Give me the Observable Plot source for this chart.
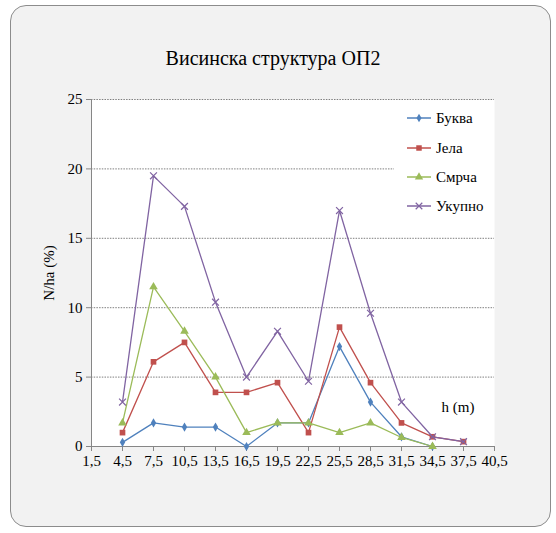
<!DOCTYPE html>
<html>
<head>
<meta charset="utf-8">
<script src="https://cdn.jsdelivr.net/npm/d3@7"></script>
<script src="https://cdn.jsdelivr.net/npm/@observablehq/plot@0.6"></script>
<style>
  html, body { margin: 0; padding: 0; background: #ffffff; }
  * { font-family: "Liberation Serif", "Times New Roman", serif; }
  #wrap { position: relative; width: 556px; height: 533px; overflow: hidden; }
  #panel { position: absolute; left: 10px; top: 5px; width: 541px; height: 522px; border: 1px solid #8c8c8c; border-radius: 16px; background: #f2f2f2; box-sizing: border-box; }
  #title { position: absolute; left: 0; width: 546px; top: 47px; text-align: center; font-size: 20px; color: #000; }
  #chart { position: absolute; left: 0; top: 0; }
  #legend { position: absolute; left: 394px; top: 104px; width: 100px; height: 118px; background: #fff; }
  .row { position: absolute; left: 12px; height: 20px; display: flex; align-items: center; font-size: 15px; color: #000; }
  .row svg { margin-right: 4px; }
</style>
</head>
<body>
<div id="wrap">
  <div id="panel"></div>
  <div id="title">Висинска структура ОП2</div>
  <div id="chart"></div>
  <div id="legend"></div>
</div>
<script>
// Heights (class midpoints, m)
const heights = [4.5, 7.5, 10.5, 13.5, 16.5, 19.5, 22.5, 25.5, 28.5, 31.5, 34.5, 37.5];
// N/ha (%) by species
const bukva  = [0.3, 1.7, 1.4, 1.4, 0.0, 1.7, 1.7, 7.2, 3.2, 0.7, 0.0];
const jela   = [1.0, 6.1, 7.5, 3.9, 3.9, 4.6, 1.0, 8.6, 4.6, 1.7, 0.7, 0.35];
const smrca  = [1.7, 11.5, 8.3, 5.0, 1.0, 1.7, 1.7, 1.0, 1.7, 0.65, 0.0];
const ukupno = [3.2, 19.5, 17.3, 10.4, 5.0, 8.3, 4.7, 17.0, 9.6, 3.2, 0.7, 0.35];

const seriesNames = ["Буква", "Јела", "Смрча", "Укупно"];
const seriesValues = [bukva, jela, smrca, ukupno];
const colors = ["#4F81BD", "#C0504D", "#9BBB59", "#8064A2"];
const symbols = ["diamond", "square", "triangle", "times"];

const xTicks = [1.5, 4.5, 7.5, 10.5, 13.5, 16.5, 19.5, 22.5, 25.5, 28.5, 31.5, 34.5, 37.5, 40.5];
const yTicks = [0, 5, 10, 15, 20, 25];
const xLabel = "h (m)";
const yLabel = "N/ha (%)";

const FONT = "Liberation Serif";

const rows = [];
seriesNames.forEach((name, i) => {
  seriesValues[i].forEach((v, j) => rows.push({series: name, x: heights[j], y: v}));
});

const marks = [
  Plot.frame({fill: "white", stroke: "none"}),
  Plot.gridY({ticks: yTicks.slice(1), stroke: "#7f7f7f", strokeOpacity: 1, strokeDasharray: "1.5,1.2"}),
  Plot.ruleY([0], {stroke: "#868686"}),
  Plot.ruleX([xTicks[0]], {stroke: "#868686"}),
  Plot.axisX({ticks: xTicks, tickFormat: d => String(d).replace(".", ","), tickSize: 5, tickPadding: 4, stroke: "#868686", fill: "#000", fontSize: 15, label: null}),
  Plot.axisY({ticks: yTicks, tickSize: 5, tickPadding: 4, stroke: "#868686", fill: "#000", fontSize: 15, label: yLabel, labelAnchor: "center", labelOffset: 48, labelArrow: "none"}),
];
seriesNames.forEach((name, i) => {
  const data = rows.filter(r => r.series === name);
  marks.push(Plot.line(data, {x: "x", y: "y", stroke: colors[i], strokeWidth: 1.3}));
  const isStroke = symbols[i] === "times";
  marks.push(Plot.dot(data, {x: "x", y: "y", symbol: () => symbols[i], r: symbols[i] === "diamond" ? 2.8 : 3.2,
    fill: isStroke ? "none" : colors[i], stroke: isStroke ? colors[i] : "none", strokeWidth: 1.2}));
});
marks.push(Plot.text([xLabel], {frameAnchor: "bottom-right", dx: -20, dy: -35, fontSize: 15, fill: "#000", textAnchor: "end"}));

const chart = Plot.plot({
  width: 556,
  height: 533,
  marginLeft: 91,
  marginRight: 62,
  marginTop: 99,
  marginBottom: 87,
  x: {domain: [1.5, 40.5]},
  y: {domain: [0, 25]},
  symbol: {type: "identity"},
  style: {background: "transparent", fontSize: "14px", color: "#000", fontFamily: FONT},
  marks
});
document.getElementById("chart").appendChild(chart);

// Legend
const legend = document.getElementById("legend");
const rowTops = [4, 34, 63, 92];
seriesNames.forEach((name, i) => {
  const row = document.createElement("div");
  row.className = "row";
  row.style.top = rowTops[i] + "px";
  const s = d3.create("svg").attr("width", 26).attr("height", 12);
  s.append("line").attr("x1", 1).attr("x2", 25).attr("y1", 6).attr("y2", 6).attr("stroke", colors[i]).attr("stroke-width", 1.5);
  const sym = d3.symbol().type([d3.symbolDiamond, d3.symbolSquare, d3.symbolTriangle, d3.symbolTimes][i]).size(i === 0 ? 22 : 30);
  s.append("path").attr("d", sym()).attr("transform", "translate(13,6)")
    .attr("fill", i === 3 ? "none" : colors[i]).attr("stroke", i === 3 ? colors[i] : "none").attr("stroke-width", 1.2);
  row.appendChild(s.node());
  const t = document.createElement("span");
  t.textContent = name;
  row.appendChild(t);
  legend.appendChild(row);
});
</script>
</body>
</html>
